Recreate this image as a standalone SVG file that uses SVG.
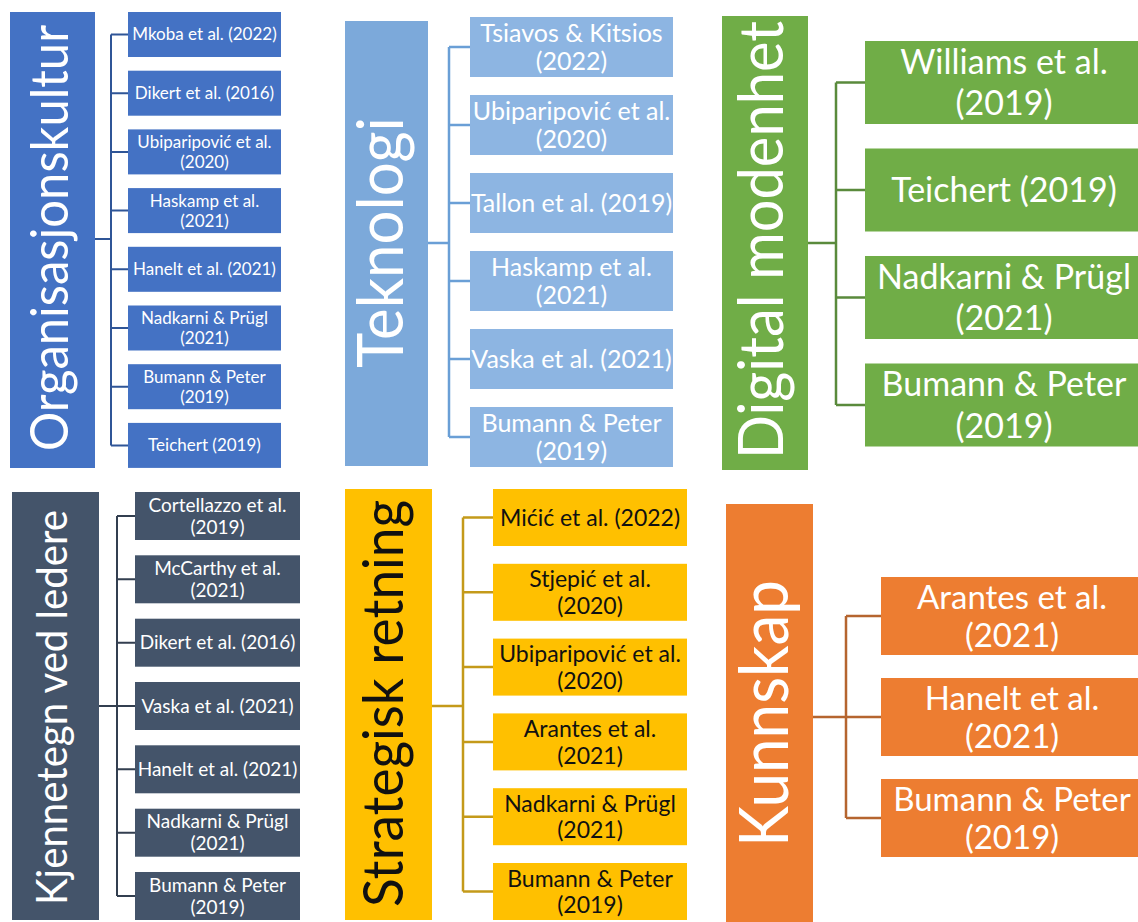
<svg xmlns="http://www.w3.org/2000/svg" width="1138" height="922" viewBox="0 0 1138 922">
<style>
text{font-family:Lato,"Open Sans","Liberation Sans",sans-serif;text-anchor:middle}
.w{fill:#fff}.k{fill:#111}
.p1{fill:#4472C4}.p2m{fill:#7CA9DA}.p2{fill:#8DB5E2}.p3{fill:#70AD47}.p4{fill:#44546A}.p5{fill:#FFC000}.p6{fill:#ED7D31}
.c1{stroke:#2F5597;stroke-width:2;fill:none}.c2{stroke:#6A9FD6;stroke-width:2.5;fill:none}.c3{stroke:#5A8A3C;stroke-width:2.5;fill:none}
.c4{stroke:#333F50;stroke-width:2;fill:none}.c5{stroke:#C49A1A;stroke-width:2.5;fill:none}.c6{stroke:#B5652F;stroke-width:2.5;fill:none}
.f1{font-size:17px}.f2{font-size:25px}.f3{font-size:34px}.f4{font-size:19px}.f5{font-size:23px}.f6{font-size:33px}
</style>
<rect width="1138" height="922" fill="#fff"/>
<g id="connectors">
<path class="c1" d="M95 239H111M111 34.5V445.4M111 34.5H128M111 93.2H128M111 151.9H128M111 210.6H128M111 269.3H128M111 328H128M111 386.7H128M111 445.4H128"/>
<path class="c2" d="M428 243H449M449 47V437M449 47H470M449 125H470M449 203H470M449 281H470M449 359H470M449 437H470"/>
<path class="c3" d="M808 243H836M836 82.5V405M836 82.5H865M836 190H865M836 297.5H865M836 405H865"/>
<path class="c4" d="M99 706H117M117 516V896M117 516H135M117 579.3H135M117 642.7H135M117 706H135M117 769.3H135M117 832.7H135M117 896H135"/>
<path class="c5" d="M432 706H463M463 517.5V891.5M463 517.5H493M463 592.3H493M463 667.1H493M463 741.9H493M463 816.7H493M463 891.5H493"/>
<path class="c6" d="M813 717H846M846 616V818M846 616H881M846 717H881M846 818H881"/>
</g>
<g id="organisasjonskultur">
<rect class="p1" x="10" y="12" width="85" height="456"/>
<text class="w" font-size="53" transform="translate(68,238) rotate(-90)" textLength="426" lengthAdjust="spacingAndGlyphs">Organisasjonskultur</text>
</g>
<g id="org-1"><rect class="p1" x="128" y="12" width="153" height="45"/><text class="w f1" x="204.5" y="40.4">Mkoba et al. (2022)</text></g>
<g id="org-2"><rect class="p1" x="128" y="70.7" width="153" height="45"/><text class="w f1" x="204.5" y="99.1">Dikert et al. (2016)</text></g>
<g id="org-3"><rect class="p1" x="128" y="129.4" width="153" height="45"/><text class="w f1" x="204.5" y="147.8">Ubiparipović et al.</text><text class="w f1" x="204.5" y="168.2">(2020)</text></g>
<g id="org-4"><rect class="p1" x="128" y="188.1" width="153" height="45"/><text class="w f1" x="204.5" y="206.5">Haskamp et al.</text><text class="w f1" x="204.5" y="226.9">(2021)</text></g>
<g id="org-5"><rect class="p1" x="128" y="246.8" width="153" height="45"/><text class="w f1" x="204.5" y="275.2">Hanelt et al. (2021)</text></g>
<g id="org-6"><rect class="p1" x="128" y="305.5" width="153" height="45"/><text class="w f1" x="204.5" y="323.9">Nadkarni &amp; Prügl</text><text class="w f1" x="204.5" y="344.3">(2021)</text></g>
<g id="org-7"><rect class="p1" x="128" y="364.2" width="153" height="45"/><text class="w f1" x="204.5" y="382.6">Bumann &amp; Peter</text><text class="w f1" x="204.5" y="403">(2019)</text></g>
<g id="org-8"><rect class="p1" x="128" y="422.9" width="153" height="45"/><text class="w f1" x="204.5" y="451.3">Teichert (2019)</text></g>

<g id="teknologi">
<rect class="p2m" x="345" y="21" width="83" height="445"/>
<text class="w" font-size="64" transform="translate(403,242.5) rotate(-90)" textLength="251" lengthAdjust="spacingAndGlyphs">Teknologi</text>
</g>
<g id="tek-1"><rect class="p2" x="470" y="17" width="203" height="60"/><text class="w f2" x="571.5" y="41.8">Tsiavos &amp; Kitsios</text><text class="w f2" x="571.5" y="69.8">(2022)</text></g>
<g id="tek-2"><rect class="p2" x="470" y="95" width="203" height="60"/><text class="w f2" x="571.5" y="119.8">Ubiparipović et al.</text><text class="w f2" x="571.5" y="147.8">(2020)</text></g>
<g id="tek-3"><rect class="p2" x="470" y="173" width="203" height="60"/><text class="w f2" x="571.5" y="211.8">Tallon et al. (2019)</text></g>
<g id="tek-4"><rect class="p2" x="470" y="251" width="203" height="60"/><text class="w f2" x="571.5" y="275.8">Haskamp et al.</text><text class="w f2" x="571.5" y="303.8">(2021)</text></g>
<g id="tek-5"><rect class="p2" x="470" y="329" width="203" height="60"/><text class="w f2" x="571.5" y="367.8">Vaska et al. (2021)</text></g>
<g id="tek-6"><rect class="p2" x="470" y="407" width="203" height="60"/><text class="w f2" x="571.5" y="431.8">Bumann &amp; Peter</text><text class="w f2" x="571.5" y="459.8">(2019)</text></g>

<g id="digital-modenhet">
<rect class="p3" x="722" y="16" width="86" height="454"/>
<text class="w" font-size="62" transform="translate(783,240) rotate(-90)" textLength="438" lengthAdjust="spacingAndGlyphs">Digital modenhet</text>
</g>
<g id="dig-1"><rect class="p3" x="865" y="41" width="278" height="83"/><text class="w f3" x="1004" y="73.6">Williams et al.</text><text class="w f3" x="1004" y="115.2">(2019)</text></g>
<g id="dig-2"><rect class="p3" x="865" y="148.5" width="278" height="83"/><text class="w f3" x="1004" y="202">Teichert (2019)</text></g>
<g id="dig-3"><rect class="p3" x="865" y="256" width="278" height="83"/><text class="w f3" x="1004" y="288.6">Nadkarni &amp; Prügl</text><text class="w f3" x="1004" y="330.2">(2021)</text></g>
<g id="dig-4"><rect class="p3" x="865" y="363.5" width="278" height="83"/><text class="w f3" x="1004" y="396.1">Bumann &amp; Peter</text><text class="w f3" x="1004" y="437.7">(2019)</text></g>

<g id="kjennetegn-ved-ledere">
<rect class="p4" x="12" y="492" width="87" height="428"/>
<text class="w" font-size="43" transform="translate(67,707.5) rotate(-90)" textLength="395" lengthAdjust="spacingAndGlyphs">Kjennetegn ved ledere</text>
</g>
<g id="kje-1"><rect class="p4" x="135" y="492" width="165" height="48"/><text class="w f4" x="217.5" y="511.6">Cortellazzo et al.</text><text class="w f4" x="217.5" y="533.6">(2019)</text></g>
<g id="kje-2"><rect class="p4" x="135" y="555.3" width="165" height="48"/><text class="w f4" x="217.5" y="574.9">McCarthy et al.</text><text class="w f4" x="217.5" y="596.9">(2021)</text></g>
<g id="kje-3"><rect class="p4" x="135" y="618.7" width="165" height="48"/><text class="w f4" x="217.5" y="649.3">Dikert et al. (2016)</text></g>
<g id="kje-4"><rect class="p4" x="135" y="682" width="165" height="48"/><text class="w f4" x="217.5" y="712.6">Vaska et al. (2021)</text></g>
<g id="kje-5"><rect class="p4" x="135" y="745.3" width="165" height="48"/><text class="w f4" x="217.5" y="775.9">Hanelt et al. (2021)</text></g>
<g id="kje-6"><rect class="p4" x="135" y="808.7" width="165" height="48"/><text class="w f4" x="217.5" y="828.3">Nadkarni &amp; Prügl</text><text class="w f4" x="217.5" y="850.3">(2021)</text></g>
<g id="kje-7"><rect class="p4" x="135" y="872" width="165" height="48"/><text class="w f4" x="217.5" y="891.6">Bumann &amp; Peter</text><text class="w f4" x="217.5" y="913.6">(2019)</text></g>

<g id="strategisk-retning">
<rect class="p5" x="345" y="489" width="87" height="431"/>
<text class="k" font-size="57" transform="translate(403,703.5) rotate(-90)" textLength="407" lengthAdjust="spacingAndGlyphs">Strategisk retning</text>
</g>
<g id="str-1"><rect class="p5" x="493" y="489" width="194" height="57"/><text class="k f5" x="590" y="525.6">Mićić et al. (2022)</text></g>
<g id="str-2"><rect class="p5" x="493" y="563.8" width="194" height="57"/><text class="k f5" x="590" y="587.4">Stjepić et al.</text><text class="k f5" x="590" y="614">(2020)</text></g>
<g id="str-3"><rect class="p5" x="493" y="638.6" width="194" height="57"/><text class="k f5" x="590" y="662.2">Ubiparipović et al.</text><text class="k f5" x="590" y="688.8">(2020)</text></g>
<g id="str-4"><rect class="p5" x="493" y="713.4" width="194" height="57"/><text class="k f5" x="590" y="737">Arantes et al.</text><text class="k f5" x="590" y="763.6">(2021)</text></g>
<g id="str-5"><rect class="p5" x="493" y="788.2" width="194" height="57"/><text class="k f5" x="590" y="811.8">Nadkarni &amp; Prügl</text><text class="k f5" x="590" y="838.4">(2021)</text></g>
<g id="str-6"><rect class="p5" x="493" y="863" width="194" height="57"/><text class="k f5" x="590" y="886.6">Bumann &amp; Peter</text><text class="k f5" x="590" y="913.2">(2019)</text></g>

<g id="kunnskap">
<rect class="p6" x="726" y="504" width="87" height="420"/>
<text class="w" font-size="68" transform="translate(788,713.5) rotate(-90)" textLength="267" lengthAdjust="spacingAndGlyphs">Kunnskap</text>
</g>
<g id="kun-1"><rect class="p6" x="881" y="577" width="262" height="78"/><text class="w f6" x="1012" y="608.6">Arantes et al.</text><text class="w f6" x="1012" y="646.6">(2021)</text></g>
<g id="kun-2"><rect class="p6" x="881" y="678" width="262" height="78"/><text class="w f6" x="1012" y="709.6">Hanelt et al.</text><text class="w f6" x="1012" y="747.6">(2021)</text></g>
<g id="kun-3"><rect class="p6" x="881" y="779" width="262" height="78"/><text class="w f6" x="1012" y="810.6">Bumann &amp; Peter</text><text class="w f6" x="1012" y="848.6">(2019)</text></g>
</svg>
